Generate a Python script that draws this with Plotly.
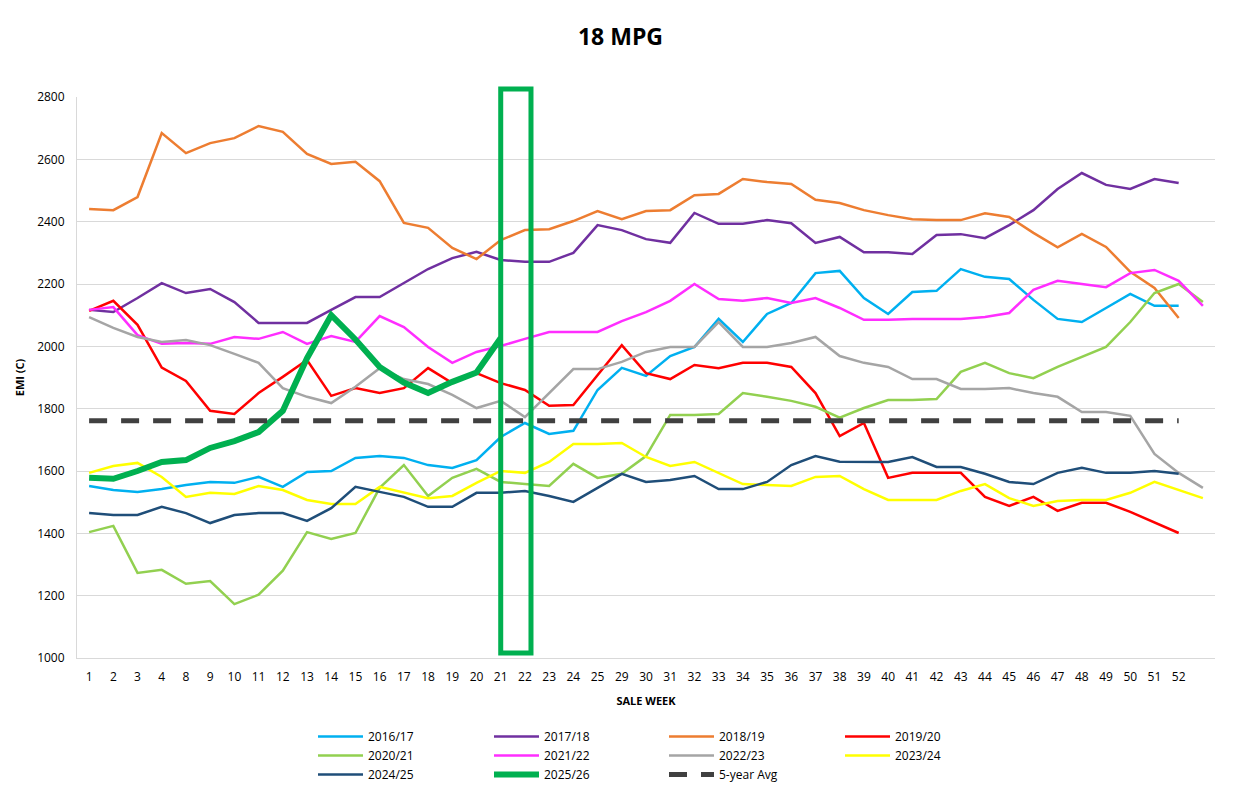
import plotly.graph_objects as go

weeks = ['1', '2', '3', '4', '8', '9', '10', '11', '12', '13', '14', '15', '16', '17', '18',
         '19', '20', '21', '22', '23', '24', '25', '29', '30', '31', '32', '33', '34', '35',
         '36', '37', '38', '39', '40', '41', '42', '43', '44', '45', '46', '47', '48', '49',
         '50', '51', '52', ' ']

s_2016_17 = [1552, 1539, 1533, 1542, 1555, 1565, 1562, 1581, 1549, 1597, 1600, 1642, 1648, 1642,
             1619, 1610, 1635, 1709, 1754, 1719, 1729, 1860, 1931, 1905, 1969, 1998, 2088, 2014,
             2104, 2139, 2235, 2242, 2155, 2104, 2174, 2178, 2248, 2223, 2216, 2149, 2088, 2078,
             2123, 2168, 2130, 2130]
s_2017_18 = [2117, 2110, 2155, 2203, 2171, 2184, 2142, 2075, 2075, 2075, 2117, 2158, 2158, 2203,
             2248, 2283, 2303, 2277, 2271, 2271, 2300, 2389, 2373, 2344, 2332, 2428, 2393, 2393,
             2405, 2395, 2332, 2351, 2302, 2302, 2296, 2357, 2360, 2347, 2389, 2437, 2505, 2556,
             2518, 2505, 2537, 2524]
s_2018_19 = [2441, 2437, 2479, 2684, 2620, 2652, 2668, 2707, 2688, 2617, 2585, 2592, 2530, 2396,
             2380, 2316, 2280, 2341, 2373, 2376, 2402, 2434, 2408, 2434, 2437, 2485, 2489, 2537,
             2527, 2521, 2470, 2460, 2437, 2421, 2408, 2405, 2405, 2427, 2415, 2364, 2318, 2361,
             2319, 2239, 2187, 2091]
s_2019_20 = [2114, 2146, 2069, 1932, 1889, 1793, 1783, 1850, 1902, 1956, 1841, 1866, 1850, 1866,
             1930, 1882, 1914, 1882, 1860, 1809, 1812, 1908, 2004, 1914, 1895, 1940, 1930, 1947,
             1947, 1934, 1850, 1712, 1754, 1578, 1594, 1594, 1594, 1517, 1488, 1517, 1472, 1498,
             1498, 1469, 1434, 1401]
s_2020_21 = [1404, 1424, 1273, 1283, 1238, 1247, 1173, 1203, 1280, 1404, 1382, 1401, 1546, 1619,
             1520, 1578, 1607, 1565, 1558, 1552, 1623, 1578, 1591, 1648, 1780, 1780, 1783, 1850,
             1838, 1825, 1806, 1771, 1802, 1828, 1828, 1831, 1918, 1947, 1914, 1898, 1934, 1966,
             1998, 2078, 2171, 2200, 2142]
s_2021_22 = [2117, 2126, 2036, 2008, 2011, 2008, 2030, 2024, 2046, 2008, 2033, 2014, 2097, 2062,
             1998, 1947, 1982, 2001, 2024, 2046, 2046, 2046, 2081, 2110, 2146, 2200, 2152, 2146,
             2155, 2139, 2155, 2123, 2085, 2085, 2088, 2088, 2088, 2094, 2107, 2181, 2210, 2200,
             2190, 2235, 2245, 2210, 2130]
s_2022_23 = [2094, 2059, 2030, 2014, 2020, 2004, 1976, 1947, 1866, 1838, 1818, 1870, 1930, 1895,
             1879, 1844, 1802, 1825, 1773, 1850, 1927, 1927, 1950, 1982, 1998, 1998, 2078, 1998,
             1998, 2011, 2030, 1969, 1947, 1934, 1895, 1895, 1863, 1863, 1866, 1850, 1838, 1789,
             1789, 1777, 1655, 1594, 1546]
s_2023_24 = [1594, 1616, 1626, 1581, 1517, 1530, 1526, 1552, 1539, 1507, 1494, 1494, 1549, 1530,
             1513, 1520, 1562, 1600, 1594, 1629, 1687, 1687, 1690, 1645, 1616, 1629, 1594, 1558,
             1555, 1552, 1581, 1584, 1542, 1507, 1507, 1507, 1536, 1558, 1513, 1488, 1504, 1507,
             1507, 1530, 1565, 1539, 1513]
s_2024_25 = [1465, 1459, 1459, 1485, 1465, 1433, 1459, 1465, 1465, 1440, 1481, 1549, 1533, 1517,
             1485, 1485, 1530, 1530, 1536, 1520, 1501, 1546, 1591, 1565, 1571, 1584, 1542, 1542,
             1565, 1619, 1648, 1630, 1629, 1629, 1645, 1613, 1613, 1591, 1565, 1558, 1594, 1610,
             1594, 1594, 1600, 1591]
s_2025_26 = [1578, 1575, 1600, 1629, 1635, 1674, 1696, 1725, 1793, 1962, 2100, 2022, 1934, 1884,
             1850, 1886, 1916, 2027]
s_5yr_avg = [1761, 1761, 1761, 1761, 1761, 1761, 1761, 1761, 1761, 1761, 1761, 1761, 1761, 1761,
             1761, 1761, 1761, 1761, 1761, 1761, 1761, 1761, 1761, 1761, 1761, 1761, 1761, 1761,
             1761, 1761, 1761, 1761, 1761, 1761, 1761, 1761, 1761, 1761, 1761, 1761, 1761, 1761,
             1761, 1761, 1761, 1761]

# highlighted sale weeks (box from week 21 to week 22)
highlight_x = (17.0, 18.25)

FONT = "Open Sans"

series = [
    ("2016/17", s_2016_17, "#00B0F0", 2.5, None, "legend"),
    ("2017/18", s_2017_18, "#7030A0", 2.5, None, "legend2"),
    ("2018/19", s_2018_19, "#ED7D31", 2.5, None, "legend3"),
    ("2019/20", s_2019_20, "#FF0000", 2.5, None, "legend4"),
    ("2020/21", s_2020_21, "#92D050", 2.5, None, "legend"),
    ("2021/22", s_2021_22, "#FF2EFF", 2.5, None, "legend2"),
    ("2022/23", s_2022_23, "#A5A5A5", 2.5, None, "legend3"),
    ("2023/24", s_2023_24, "#FFFF00", 2.5, None, "legend4"),
    ("2024/25", s_2024_25, "#1F4E79", 2.5, None, "legend"),
    ("2025/26", s_2025_26, "#00B050", 6, None, "legend2"),
    ("5-year Avg", s_5yr_avg, "#404040", 5, "18px,14px", "legend3"),
]

fig = go.Figure()
for name, vals, color, width, dash, leg in series:
    line = dict(color=color, width=width)
    if dash:
        line["dash"] = dash
    fig.add_trace(go.Scatter(
        x=weeks[:len(vals)], y=vals, name=name, mode="lines",
        line=line, legend=leg, hoverinfo="x+y+name",
    ))

fig.add_shape(type="rect", xref="x", yref="paper",
              x0=highlight_x[0], x1=highlight_x[1], y0=0.009, y1=1.0143,
              line=dict(color="#00B050", width=5), fillcolor="rgba(0,0,0,0)",
              layer="above")

W, H = 1225, 802
PL, PW, PT, PH = 69, 1138, 89, 561


def lx(px):
    return (px - PL) / PW


legend_common = dict(
    orientation="v", xref="paper", yref="paper", yanchor="top", xanchor="left",
    y=(PT + PH - 714) / PH, font=dict(family=FONT, size=12, color="#000000"), tracegroupgap=0,
    bgcolor="rgba(0,0,0,0)", itemwidth=45,
)

fig.update_layout(
    width=W, height=H,
    paper_bgcolor="white", plot_bgcolor="white",
    margin=dict(l=PL, r=W - PL - PW, t=PT, b=H - PT - PH, autoexpand=False),
    font=dict(family=FONT, size=12, color="#000000"),
    title=dict(text="<b>18 MPG</b>", x=0.5, xanchor="center", y=1 - 29 / H, yanchor="middle",
               font=dict(family=FONT, size=23, color="#000000")),
    showlegend=True,
    legend=dict(legend_common, x=lx(305)),
    legend2=dict(legend_common, x=lx(481)),
    legend3=dict(legend_common, x=lx(656)),
    legend4=dict(legend_common, x=lx(832)),
    xaxis=dict(
        type="category", categoryorder="array", categoryarray=weeks,
        range=[-0.5, len(weeks) - 0.5], tickangle=0,
        showgrid=False, showline=True, linecolor="#D9D9D9", linewidth=1,
        ticks="", tickfont=dict(family=FONT, size=12, color="#000000"),
        ticklabelstandoff=8,
        title=dict(text="<b>SALE WEEK</b>", font=dict(family=FONT, size=11, color="#000000"),
                   standoff=12),
        zeroline=False,
    ),
    yaxis=dict(
        range=[1000, 2800], dtick=200, tick0=1000,
        showgrid=True, gridcolor="#D9D9D9", gridwidth=1,
        showline=True, linecolor="#D9D9D9", linewidth=1,
        ticks="", tickfont=dict(family=FONT, size=12, color="#000000"),
        ticklabelstandoff=9,
        title=dict(text="<b>EMI (C)</b>", font=dict(family=FONT, size=11, color="#000000"),
                   standoff=10),
        zeroline=False,
    ),
)

fig.write_html("out.html")
